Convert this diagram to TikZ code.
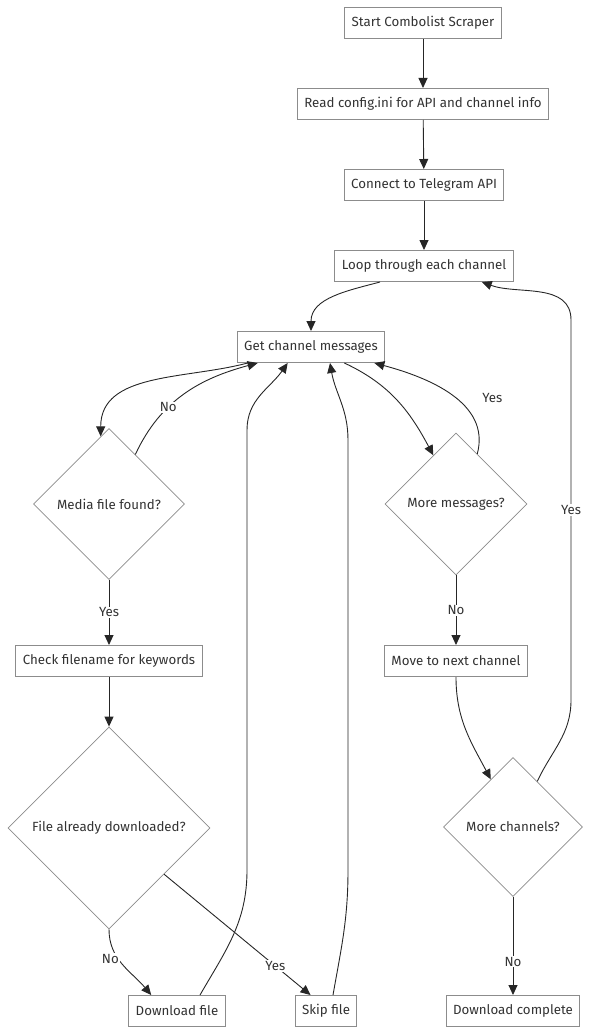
\documentclass[tikz,border=0pt]{standalone}
\usepackage{fontspec}
\setmainfont{Fira Sans}
\usetikzlibrary{shapes.geometric, arrows.meta, positioning}
\definecolor{txtgray}{HTML}{333333}
\definecolor{boxgray}{HTML}{8C8C8C}

\begin{document}
\begin{tikzpicture}[x=1pt, y=1pt,
		>={Triangle[length=10pt,width=9pt]},
		every node/.style={font=\fontsize{13.3}{16}\selectfont, text=txtgray},
		stepbox/.style={draw=boxgray, fill=white, line width=1pt, inner xsep=7pt, inner ysep=0pt, minimum height=31pt},
		choice/.style={diamond, draw=boxgray, fill=white, line width=0.8pt, inner sep=0pt},
		lbl/.style={fill=white, inner sep=1pt},
		flow/.style={->, draw=black!85, line width=0.9pt}]
		\useasboundingbox (0,0) rectangle (592,-1035);
		\draw (423,-23) node[stepbox] (start) {Start Combolist Scraper}
		(423,-104) node[stepbox] (readcfg) {Read config.ini for API and channel info}
		(424,-185) node[stepbox] (connect) {Connect to Telegram API}
		(424,-266) node[stepbox] (loop) {Loop through each channel}
		(311,-347) node[stepbox] (getmsg) {Get channel messages}
		(109,-504) node[choice, minimum size=151pt] (media) {Media file found?}
		(109,-661) node[stepbox] (check) {Check filename for keywords}
		(109,-828) node[choice, minimum size=202pt] (already) {File already downloaded?}
		(177,-1011) node[stepbox] (dlfile) {Download file}
		(326,-1011) node[stepbox] (skip) {Skip file}
		(456,-504) node[choice, minimum size=142pt] (moremsg) {More messages?}
		(456,-661) node[stepbox] (nextch) {Move to next channel}
		(513,-827) node[choice, minimum size=139pt] (morech) {More channels?}
		(513,-1011) node[stepbox] (done) {Download complete};
		
		\draw[flow] (start) -- (readcfg);
		\draw[flow] (readcfg) -- (connect);
		\draw[flow] (connect) -- (loop);
		\draw[flow] ([xshift=-44]loop.south) to[out=-165,in=90] (getmsg.north);
		\draw[flow] ([xshift=11]getmsg.south west) to[out=-165,in=90] (media.97);
		\draw[flow] (media.62) to[out=65,in=-165] node[lbl, pos=0.36] {No} ([xshift=21]getmsg.south west);
		\draw[flow] (media) -- node[lbl] {Yes} (check);
		\draw[flow] (check) -- (already);
		\draw[flow] (already.south) to[out=-90,in=130] node[lbl, pos=0.3, xshift=-4, yshift=-6] {No} ([xshift=23]dlfile.north west);
		\draw[flow] (already.-40) -- node[lbl, pos=0.76] {Yes} ([xshift=16]skip.north west);
		\draw[flow] ([xshift=23]dlfile.north) to[out=60,in=-90] (247,-870) -- (247,-430) to[out=90,in=-125] ([xshift=51]getmsg.south west);
		\draw[flow] ([xshift=7]skip.north) to[out=80,in=-90] (348,-870) -- (348,-440) to[out=90,in=-80] ([xshift=19]getmsg.south);
		\draw[flow] ([xshift=-41]getmsg.south east) to[out=-25,in=118] (moremsg.115);
		\draw[flow] (moremsg.67) to[out=75,in=-15] node[lbl, pos=0.3, anchor=west, xshift=10, yshift=16] {Yes} ([xshift=-11]getmsg.south east);
		\draw[flow] (moremsg) -- node[lbl] {No} (nextch);
		\draw[flow] (nextch.south) to[out=-90,in=118] (morech.115);
		\draw[flow] (morech.62) to[out=65,in=-90] (571,-700) -- node[lbl] {Yes} (571,-320) to[out=90,in=-20] ([xshift=-32]loop.south east);
		\draw[flow] (morech) -- node[lbl, pos=0.66] {No} (done);
	\end{tikzpicture}
\end{document}
